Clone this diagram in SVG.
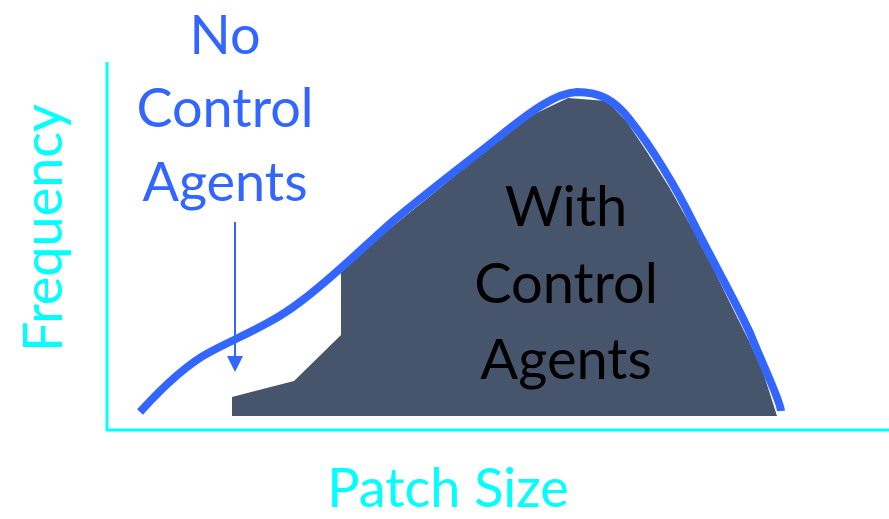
<svg xmlns="http://www.w3.org/2000/svg" width="889" height="519" viewBox="0 0 889 519">
<style>
.axis{stroke:#00FFFF;stroke-width:3;fill:none}
.lbl{font-family:Lato,"Open Sans",sans-serif;text-anchor:middle}
.cyan{fill:#00FFFF}
.blue{fill:#3366FF}
.blk{fill:#000}
</style>
<defs>
<marker id="ah" markerWidth="8" markerHeight="8" refX="7" refY="4" orient="auto" markerUnits="strokeWidth">
<path d="M0,0 L8,4 L0,8 z" fill="#3366FF"/>
</marker>
</defs>
<rect width="889" height="519" fill="#fff"/>
<g id="axes">
<path class="axis" d="M107,62 V430 H889"/>
</g>
<g id="with-control">
<path d="M232,397 L294,381 L341,335 L341,270 L393,226 L440,188 L480,155 L528,117 L568,98 L607,101 L627,122 L647,152 L669,187 L692,228 L713,268 L732,307 L749,341 L763,372 L777,416 L232,416 Z" fill="#46556B"/>
<text class="lbl blk" font-size="56"><tspan x="566" y="226">With</tspan><tspan x="566" y="303">Control</tspan><tspan x="566" y="379">Agents</tspan></text>
</g>
<g id="no-control">
<path d="M140,412 C160,390 185,365 210,352 C240,336 270,325 300,302 C330,280 360,250 393,221 C430,190 470,160 500,136 C530,112 555,93 577,92 C600,92 615,100 630,120 C650,145 675,185 693,222 C712,260 735,300 750,333 C765,370 780,400 781,411" fill="none" stroke="#3366FF" stroke-width="8"/>
<text class="lbl blue" font-size="54"><tspan x="225" y="54">No</tspan><tspan x="225" y="127">Control</tspan><tspan x="225" y="201">Agents</tspan></text>
</g>
<g id="connectors">
<line x1="235" y1="222" x2="235" y2="370" stroke="#3366FF" stroke-width="2" marker-end="url(#ah)"/>
</g>
<g id="x-label"><text class="lbl cyan" x="448" y="507" font-size="54">Patch Size</text></g>
<g id="y-label"><text class="lbl cyan" transform="translate(62,228) rotate(-90)" font-size="54">Frequency</text></g>
</svg>
